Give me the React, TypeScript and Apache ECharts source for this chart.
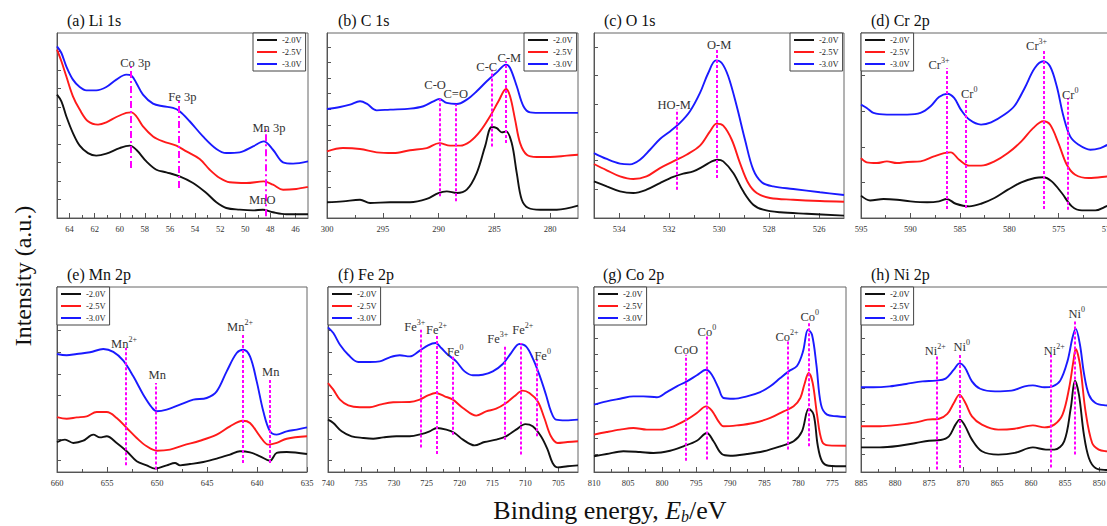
import React, { useEffect, useRef } from "react";
import * as echarts from "echarts";

const SERIES_NAMES = ["-2.0V", "-2.5V", "-3.0V"];
const COLORS = ["#111111", "#ff1a1a", "#1a1aff"];
const FONT = '"Liberation Serif", "Times New Roman", serif';

// (a) Li 1s
const liBlack = [[65,66.7],[64.65,63.1],[64.26,55],[63.73,45.9],[63.19,39.1],[62.53,35.1],[61.87,33.7],[61.07,34.8],[60.01,37.8],[59.21,39.1],[58.68,36.9],[57.88,30.6],[57.08,26.1],[56.29,24.7],[55.23,22.5],[54.16,18.9],[53.1,13.5],[52.3,8.5],[51.51,5.4],[50.44,4.5],[49.38,4.1],[48.59,4.5],[47.79,3.1],[46.73,2],[45,2]];
const liRed = [[65,91],[64.65,84.7],[64.26,76.6],[63.73,65.8],[63.19,58.6],[62.53,52.3],[61.73,50.5],[61.07,51.7],[60.27,54.6],[59.48,56.8],[59.08,57.1],[58.68,55],[58.15,49.5],[57.35,44.1],[56.55,41.4],[55.49,39.1],[54.69,36],[53.63,31.9],[52.83,26.1],[52.03,21.6],[51.24,19.3],[49.91,18.9],[48.53,19.8],[47.79,18],[46.99,15.3],[45.93,15.7],[45,16.8]];
const liBlue = [[65,92.8],[64.65,89.2],[64.26,82],[63.73,74.8],[63.19,70.8],[62.66,69],[61.87,69],[61.07,70.8],[60.27,74.8],[59.48,77.5],[59.08,77],[58.68,73],[58.15,66.7],[57.35,61.8],[56.55,60.4],[55.76,59.5],[55.23,57.7],[54.43,52.3],[53.37,44.1],[52.3,37.3],[51.51,35.1],[50.44,35.5],[49.38,38.7],[48.53,41.4],[47.79,36.9],[46.99,30.1],[46.19,29.4],[45,30.6]];
// [label, superscript, line x, line bottom, line top, label x, label y]
const liNotes = [["Co 3p","",59.15,27,82,58.76,84.3],["Fe 3p","",55.28,16.2,64,55.01,66.1],["Mn 3p","",48.4,1,47.7,48.11,49.2],["MnO","",null,0,0,48.64,10.3]];

// (b) C 1s
const cBlack = [[300,8.5],[298.57,9],[297.04,9.9],[296.14,8.1],[294.35,8.5],[292.56,8.5],[291.06,10.3],[290.01,13.5],[289.27,14.4],[288.37,13.5],[287.47,15.3],[286.58,24.3],[285.83,38.7],[285.23,49.2],[284.78,48.6],[284.33,46.3],[283.95,46.8],[283.44,40.5],[282.99,24.3],[282.54,9.9],[281.94,5.4],[280.9,4.5],[279.4,4.5],[277.5,6.7]];
const cRed = [[300,36],[298.57,37.8],[297.04,37.3],[295.55,35.5],[294.05,35.1],[292.56,36.6],[291.06,37.8],[289.93,40.5],[288.97,39.1],[288.07,39.1],[287.17,41.4],[286.28,46.8],[285.38,55],[284.63,63.1],[283.95,69.7],[283.59,65.8],[283.14,53.2],[282.69,40.5],[282.09,34.2],[281.2,33],[280,33],[278.5,33.7],[277.5,34.2]];
const cBlue = [[300,58.9],[298.83,60],[297.94,61.3],[297.04,63.1],[296.44,61.8],[295.55,58.2],[294.35,58.6],[292.56,59.1],[291.36,60.4],[290.46,63.1],[289.93,64.3],[289.27,62.2],[288.37,61.6],[287.47,64],[286.58,68.5],[285.68,73.9],[284.78,78.7],[283.95,82.9],[283.59,81.1],[282.99,71.2],[282.39,60.4],[281.79,57.1],[280.6,56.8],[278.8,56.8],[277.5,56.8]];
const cNotes = [["C-O","",289.87,11.7,64.5,290.31,72.4],["C=O","",288.43,9,61.3,288.46,67.6],["C-C","",285.23,38.7,80.2,285.68,82.3],["C-M","",283.98,40.5,84.7,283.65,87]];

// (c) O 1s
const oBlack = [[535,19.8],[534.49,17.1],[533.96,14.4],[533.43,13.5],[532.9,15.3],[532.36,18.9],[531.83,22.2],[531.43,24],[531.03,25.2],[530.63,27.9],[530.29,30.6],[530.07,31.5],[529.83,30.6],[529.43,24.3],[529.03,14.4],[528.63,7.2],[528.23,4.5],[527.56,3.1],[526.49,2.3],[525,1.3]];
const oRed = [[535,29.2],[534.49,25.8],[533.96,22.5],[533.43,21.1],[532.9,22.5],[532.36,27],[531.83,30.6],[531.3,34.2],[530.76,39.1],[530.36,46.8],[530.09,51],[529.83,49.9],[529.49,42.3],[529.16,29.7],[528.83,18.9],[528.49,13.5],[527.96,10.8],[527.03,9.9],[525.96,9.2],[525,8.8]];
const oBlue = [[535,35.1],[534.49,31.9],[533.96,29.4],[533.56,29],[533.16,31.5],[532.76,36.9],[532.36,42.7],[531.96,46.8],[531.56,51.4],[531.16,57.7],[530.76,67.6],[530.43,78.4],[530.12,85.2],[529.89,83.8],[529.63,76.6],[529.29,60.4],[528.96,42.3],[528.63,26.1],[528.29,19.3],[527.83,17.1],[527.03,15.7],[525.96,13.9],[525,12.4]];
const oNotes = [["HO-M","",531.69,15.3,58.6,531.79,61.6],["O-M","",530.09,21.6,91,529.99,94]];

// (d) Cr 2p
const crBlack = [[595,12.1],[594.08,9.5],[592.72,10.3],[591.36,9.9],[590,9],[588.3,8.5],[587.11,9],[586.33,10.3],[585.41,7.7],[584.05,6.3],[582.86,7.7],[581.5,10.8],[580.14,15.3],[578.78,19.3],[577.42,21.6],[576.56,22],[575.71,19.8],[574.69,13.5],[573.67,6.3],[572.65,4.1],[571.29,4.1],[570,6.7],[568.7,8.2]];
const crRed = [[595,32.4],[594.42,30.1],[593.4,29.7],[592.38,30.6],[591.36,29.7],[590.34,30.3],[588.98,30.6],[587.62,33.3],[586.6,35.1],[585.92,35.5],[585.07,31.5],[584.05,28.3],[582.86,28.3],[581.5,30.6],[580.14,35.1],[578.78,41.4],[577.59,48.6],[576.56,52.3],[575.88,50.5],[575.03,40.5],[574.18,28.8],[573.33,23.4],[571.97,21.6],[570,22.5],[568.7,23.2]];
const crBlue = [[595,61.3],[594.42,59.5],[593.74,56.8],[592.38,55.9],[590.34,55.9],[588.98,56.8],[587.96,60.4],[587.11,65.4],[586.26,67.2],[585.58,64.9],[584.9,58.6],[584.05,53.2],[582.86,50.5],[581.84,51.7],[580.48,55.9],[579.46,60.7],[578.44,70.3],[577.42,81.1],[576.56,84.7],[575.88,82],[575.2,71.2],[574.52,55],[573.84,44.1],[572.99,39.6],[571.8,36.9],[570.78,37.8],[570,39.6],[568.7,41]];
const crNotes = [["Cr","3+",586.33,4.9,81,587.11,83.2],["Cr","0",584.39,5.4,64.9,584.05,67.6],["Cr","3+",576.56,4.9,91,577.24,93.7],["Cr","0",574.12,4.5,64.9,573.84,67]];

// (e) Mn 2p
const mnBlack = [[660,16.2],[659.2,17.5],[658.37,15.7],[657.37,16.9],[656.37,20.2],[655.7,18.7],[655.03,19.3],[654.03,15.7],[653.03,11.2],[652.03,5.8],[651.03,3.6],[650.2,1.8],[649.03,3.6],[648.2,4.9],[647.7,3.6],[646.7,4.3],[645.37,5.4],[644.03,7.2],[642.7,9.4],[641.7,11.2],[640.7,10.6],[639.7,8.5],[638.7,6.1],[638.03,10.3],[637.03,10.8],[635,9.7]];
const mnRed = [[660,29.7],[659.03,28.8],[658.03,29.5],[657.03,30.1],[656.03,32.4],[655.03,32.4],[654.03,29.2],[653.03,23.8],[652.03,18.4],[651.03,13.9],[650.03,11.5],[648.7,12.1],[647.37,14.4],[645.7,16.9],[644.03,20.2],[642.7,24.7],[641.43,27.7],[640.7,26.5],[639.7,19.3],[638.87,14.8],[638.03,15.7],[637.03,18],[635,19.3]];
const mnBlue = [[660,63.8],[659.03,63.1],[658.03,63.8],[656.7,64.7],[655.37,66.5],[654.37,64.9],[653.37,60.2],[652.37,51.7],[651.37,41.8],[650.53,35],[650.03,32.8],[649.03,33.7],[647.7,36.4],[646.37,39.1],[645.03,40],[644.03,43.6],[643.03,54.4],[642.03,64.3],[641.37,66.1],[640.7,62.5],[640.03,49],[639.37,32.8],[638.7,22],[638.03,20.2],[637.03,22],[636.03,22.9],[635,24.1]];
const mnNotes = [["Mn","2+",653.1,3.6,67,653.3,69.7],["Mn","",650.1,1.3,48.1,649.97,53],["Mn","2+",641.43,4.9,75.1,641.7,79.1],["Mn","",638.77,4.9,49.9,638.63,54.8]];

// (f) Fe 2p
const feBlack = [[740,28.3],[739.19,26.5],[737.93,22],[736.41,19.3],[734.65,18.4],[733.13,18],[731.62,18.7],[729.6,19.3],[727.58,19.3],[725.81,20.5],[724.55,22],[723.43,23.8],[722.02,22.9],[720.76,21.1],[719.49,17.5],[717.73,14.4],[716.21,16.2],[714.44,17.5],[712.93,19.3],[711.41,22.9],[710,25.9],[708.89,24.7],[707.63,19.3],[706.62,12.1],[705.86,4.9],[705.1,2.5],[703.59,3.1],[702,3.6]];
const feRed = [[740,48.1],[739.19,44.5],[738.18,39.1],[736.92,36],[735.15,35],[733.64,35],[732.12,36.4],[730.1,37.7],[727.58,37.8],[726.06,39.1],[724.8,41.4],[723.64,42.7],[722.27,40.9],[721.01,39.1],[719.49,34.6],[717.47,30.5],[715.96,32.8],[714.44,34.2],[712.93,37.3],[711.67,40.9],[710.4,44],[709.39,42.7],[708.13,38.2],[707.12,29.2],[706.11,19.3],[705.1,15.7],[703.59,16.2],[702,16.6]];
const feBlue = [[740,78.2],[739.19,75.1],[738.18,68.8],[736.92,63.4],[735.4,59.5],[733.64,59.5],[732.12,59.8],[730.61,62],[729.09,63.1],[727.58,62.5],[726.06,65.6],[724.8,68.5],[723.64,69.7],[722.78,67],[721.77,63.4],[720.51,59.8],[719.24,54.4],[717.98,52.3],[716.46,52.6],[714.95,54.4],[713.43,58.4],[712.17,64.3],[710.91,69.2],[709.9,67.9],[708.89,61.6],[707.88,52.6],[706.87,41.8],[706.11,32.8],[705.35,28.3],[703.84,27.9],[702,28.3]];
const feNotes = [["Fe","3+",725.91,13.3,76.9,726.8,78.7],["Fe","2+",723.43,9.7,74.2,723.5,77.5],["Fe","0",721.01,20.2,62.5,720.66,65.2],["Fe","3+",713.18,17.5,67.9,714.19,72.4],["Fe","2+",710.76,9.4,69.7,710.4,77.5],["Fe","0",708.23,19.3,60.7,707.37,63.4]];

// (g) Co 2p
const coBlack = [[810,8.5],[808.14,9.7],[805.69,11.2],[803.24,10.8],[801.27,10.3],[798.82,11.5],[796.86,13.9],[794.9,16.9],[793.43,21.1],[792.45,16.6],[791.23,9.7],[790,8.8],[787.55,9.7],[785.1,11.2],[782.65,13.9],[780.69,16.6],[779.46,22],[778.48,34.2],[777.75,31],[777.16,14.6],[776.52,5.8],[775.54,3.4],[773,3.1]];
const coRed = [[810,20.2],[808.14,21.6],[806.18,22.9],[804.22,23.8],[802.25,22.9],[800.29,22.9],[798.33,24.7],[796.37,28.3],[794.9,31.9],[793.53,35.5],[792.7,33.2],[791.72,27.4],[790.98,24.7],[789.02,25.2],[786.57,26.5],[784.12,29.2],[782.16,32.8],[780.69,35.5],[779.71,40],[779.12,47.2],[778.48,53.5],[777.89,48.1],[777.25,31],[776.52,16.6],[775.54,14.4],[773,14.2]];
const coBlue = [[810,36.4],[808.14,38.2],[806.18,39.6],[804.22,40.9],[802.75,40.9],[800.78,40.4],[799.31,43.2],[797.84,46.3],[796.37,49],[794.9,52.3],[793.53,55.3],[792.7,52.6],[791.72,45.4],[790.98,40],[789.51,39.6],[787.55,40.9],[785.59,43.2],[784.12,46.3],[782.65,50.8],[781.42,54.4],[780.2,57.3],[779.31,65.2],[778.58,76.9],[777.99,74.2],[777.35,58],[776.67,36.4],[775.78,31],[774.31,30.1],[773,29.7]];
const coNotes = [["CoO","",796.47,6.1,63.4,796.47,66.4],["Co","0",793.43,6.7,73.3,793.43,76.1],["Co","2+",781.57,12.1,70.6,781.67,73.4],["Co","0",778.53,13.9,80.5,778.33,84.2]];

// (h) Ni 2p
const niBlack = [[885,13.3],[882.24,13.3],[879.34,14.2],[876.92,15.7],[874.99,16.9],[873.29,17.3],[872.08,19.3],[871.12,25.6],[870.49,28.3],[869.76,25.2],[868.7,17.5],[867.24,11.2],[864.83,9.4],[862.41,10.3],[859.75,13.3],[857.82,12.1],[856.6,12.1],[855.15,16.6],[854.18,34.6],[853.56,49.4],[852.98,41.8],[852.25,20.2],[851.52,7.6],[850.55,2.2],[849,1.1],[846.8,0.9]];
const niRed = [[885,24.7],[882.24,24.7],[879.34,25.6],[876.92,26.8],[875.23,28.3],[873.53,28.8],[872.32,31.4],[871.36,37.3],[870.54,41.8],[869.66,37.3],[868.7,30.1],[867.24,25.6],[864.83,22.9],[862.41,23.4],[859.75,25.2],[858.05,24.1],[856.6,25.6],[855.39,31],[854.42,45.4],[853.8,59.8],[853.46,66.5],[852.83,58],[852.01,32.8],[851.04,15.7],[850.07,12.1],[849,11.2],[846.8,10.8]];
const niBlue = [[885,45.8],[883.21,45.8],[880.79,46.3],[878.37,47.6],[875.95,49],[874.02,49.4],[872.57,50.5],[871.36,55.3],[870.54,58.7],[869.76,56.6],[868.7,49],[867.49,45],[865.31,43.6],[862.89,44],[860.96,46.3],[859.75,46.8],[858.05,45.8],[856.84,46.3],[855.73,49.4],[854.67,59.8],[853.94,72.4],[853.46,77.5],[852.83,68.8],[852.25,53.5],[851.52,41.8],[850.55,37.3],[849,36],[846.8,35.5]];
const niNotes = [["Ni","2+",873.87,1.3,63.4,874.1,66.2],["Ni","0",870.53,2.2,63.4,870.2,68.2],["Ni","2+",857.08,2.5,63.4,856.6,66.2],["Ni","0",853.6,9.4,82.3,853.31,86.2]];

// Axis ranges and tick labels
const titles = ["(a) Li 1s","(b) C 1s","(c) O 1s","(d) Cr 2p","(e) Mn 2p","(f) Fe 2p","(g) Co 2p","(h) Ni 2p"];
const xRanges = [[45,65],[277.5,300],[525,535],[568.7,595],[635,660],[702,740],[773,810],[846.8,885]];
const xMajor = [
  [64,62,60,58,56,54,52,50,48,46],
  [300,295,290,285,280],
  [534,532,530,528,526],
  [595,590,585,580,575,570],
  [660,655,650,645,640,635],
  [740,735,730,725,720,715,710,705],
  [810,805,800,795,790,785,780,775],
  [885,880,875,870,865,860,855,850],
];
const xMinor = [
  [63,61,59,57,55,53,51,49,47],
  [297.5,292.5,287.5,282.5],
  [533,531,529,527],
  [592.5,587.5,582.5,577.5,572.5],
  [657.5,652.5,647.5,642.5,637.5],
  [737.5,732.5,727.5,722.5,717.5,712.5,707.5],
  [807.5,802.5,797.5,792.5,787.5,782.5,777.5],
  [882.5,877.5,872.5,867.5,862.5,857.5,852.5],
];
const yTicks = [
  [10,20,30,40,50,60,70,80,90],
  [8.4,16.8,25.2,33.6,42,50.4,58.8,67.2,75.6,84,92.4],
  [15.5,31,46.3,61.6,77,92.3],
  [19.3,38.5,57.7,77],
  [6.1,17.8,29.5,41.3,53,64.7,76.4],
  [6.1,17.8,29.5,41.3,53,64.7,76.4],
  [9.4,18.4,27.4,36.4,45.4,54.4,63.4,72.4],
  [9.4,18.4,27.4,36.4,45.4,54.4,63.4,72.4],
];
const curves = [
  [liBlack, liRed, liBlue],[cBlack, cRed, cBlue],[oBlack, oRed, oBlue],[crBlack, crRed, crBlue],
  [mnBlack, mnRed, mnBlue],[feBlack, feRed, feBlue],[coBlack, coRed, coBlue],[niBlack, niRed, niBlue],
];
const notes = [liNotes, cNotes, oNotes, crNotes, mnNotes, feNotes, coNotes, niNotes];

// Layout (pixels)
const layout = [
  { left: 57, top: 33, width: 251, height: 185, lgLeft: 253, tLeft: 67, tTop: 12 },
  { left: 327, top: 33, width: 251, height: 185, lgLeft: 524, tLeft: 338, tTop: 12 },
  { left: 594, top: 33, width: 250, height: 185, lgLeft: 790, tLeft: 604, tTop: 12 },
  { left: 861, top: 33, width: 260, height: 185, lgLeft: 861, tLeft: 871, tTop: 12 },
  { left: 57, top: 287, width: 250, height: 185, lgLeft: 57, tLeft: 67, tTop: 266 },
  { left: 328, top: 287, width: 250, height: 185, lgLeft: 328, tLeft: 338, tTop: 266 },
  { left: 594, top: 287, width: 252, height: 185, lgLeft: 594, tLeft: 603, tTop: 266 },
  { left: 861, top: 287, width: 260, height: 185, lgLeft: 861, tLeft: 871, tTop: 266 },
];

const noteRich = {
  n: { fontSize: 12.5, fontFamily: FONT, color: "#333", lineHeight: 15, verticalAlign: "bottom" },
  p: { fontSize: 8, fontFamily: FONT, color: "#333", lineHeight: 9, verticalAlign: "top" },
};

function buildOption() {
  const grid: any[] = [];
  const xAxis: any[] = [];
  const yAxis: any[] = [];
  const series: any[] = [];
  const legend: any[] = [];
  const title: any[] = [];
  layout.forEach((L, i) => {
    grid.push({
      left: L.left, top: L.top, width: L.width, height: L.height, show: true,
      borderColor: "#666", borderWidth: 1, backgroundColor: "transparent",
      containLabel: false, outerBoundsMode: "none",
    });
    const [mn, mx] = xRanges[i];
    xAxis.push({
      type: "value", gridIndex: i, min: mn, max: mx, inverse: true, position: "bottom",
      axisLine: { show: true, onZero: false, lineStyle: { color: "#555", width: 1 } },
      splitLine: { show: false },
      axisTick: { show: true, inside: true, length: 5, customValues: xMajor[i], lineStyle: { color: "#555" } },
      axisLabel: { show: true, customValues: xMajor[i], fontSize: 8.5, color: "#333", fontFamily: FONT, margin: 6, hideOverlap: false },
    });
    xAxis.push({
      type: "value", gridIndex: i, min: mn, max: mx, inverse: true, position: "bottom", offset: 0,
      axisLine: { show: false, onZero: false },
      splitLine: { show: false },
      axisTick: { show: true, inside: true, length: 3, customValues: xMinor[i], lineStyle: { color: "#555" } },
      axisLabel: { show: false },
    });
    yAxis.push({
      type: "value", gridIndex: i, min: 0, max: 100,
      axisLine: { show: true, onZero: false, lineStyle: { color: "#555" } },
      splitLine: { show: false },
      axisTick: { show: true, inside: true, length: 4, customValues: yTicks[i], lineStyle: { color: "#555" } },
      axisLabel: { show: false },
    });
    curves[i].forEach((data, k) => {
      const s: any = {
        type: "line", name: SERIES_NAMES[k], xAxisIndex: 2 * i, yAxisIndex: i,
        data, showSymbol: false, symbol: "none", smooth: 0.35,
        lineStyle: { width: 1.9, color: COLORS[k] }, itemStyle: { color: COLORS[k] }, z: 3,
      };
      if (k === 2) {
        const ns: any[] = notes[i];
        s.markLine = {
          silent: true, symbol: ["none", "none"], animation: false,
          lineStyle: { color: "#ff00ff", width: 2, type: i === 0 ? [7, 3, 2, 3] : [3, 2] },
          label: { show: false },
          emphasis: { disabled: true },
          data: ns.filter((n) => n[2] !== null).map((n) => [
            { coord: [n[2], n[3]] },
            { coord: [n[2], n[4]] },
          ]),
        };
        s.markPoint = {
          silent: true, symbol: "rect", symbolSize: 1, itemStyle: { color: "rgba(0,0,0,0)" },
          emphasis: { disabled: true },
          label: { show: true, position: "inside", rich: noteRich },
          data: ns.map((n) => ({
            coord: [n[5], n[6]],
            label: { formatter: n[1] ? `{n|${n[0]}}{p|${n[1]}}` : `{n|${n[0]}}` },
          })),
        };
      }
      series.push(s);
    });
    legend.push({
      data: SERIES_NAMES, left: L.lgLeft, top: L.top, orient: "vertical", icon: "rect",
      itemWidth: 20, itemHeight: 2, itemGap: 2, itemTextGap: 3, padding: [2, 4, 2, 4],
      borderColor: "#444", borderWidth: 1, backgroundColor: "#fff", borderRadius: 0, selectedMode: false,
      textStyle: { fontSize: 8.5, fontFamily: FONT, color: "#222", lineHeight: 10 },
    });
    title.push({ text: titles[i], left: L.tLeft, top: L.tTop, padding: 0, textStyle: { fontSize: 16, fontWeight: "normal", fontFamily: FONT, color: "#111" } });
  });
  return {
    animation: false,
    backgroundColor: "#fff",
    grid, xAxis, yAxis, series, legend, title,
    graphic: [
      {
        type: "text", x: 23, y: 276, rotation: Math.PI / 2,
        style: {
          text: "{n|Intensity (a.u.)}", align: "center", verticalAlign: "middle",
          rich: { n: { fontSize: 24, fontFamily: FONT, fill: "#111", lineHeight: 26 } },
        },
      },
      {
        type: "text", x: 610, y: 510,
        style: {
          text: "{n|Binding energy, }{i|E}{s|b}{n|/eV}", align: "center", verticalAlign: "middle", fill: "#111",
          rich: {
            n: { fontSize: 26, fontFamily: FONT, lineHeight: 28, fill: "#111" },
            i: { fontSize: 26, fontFamily: FONT, fontStyle: "italic", lineHeight: 28, fill: "#111" },
            s: { fontSize: 16, fontFamily: FONT, fontStyle: "italic", lineHeight: 16, verticalAlign: "bottom", fill: "#111" },
          },
        },
      },
    ],
  };
}

export default function App() {
  const ref = useRef<HTMLDivElement>(null);
  useEffect(() => {
    if (!ref.current) return;
    const chart = echarts.init(ref.current, undefined, { renderer: "svg" });
    chart.setOption(buildOption() as any);
    return () => chart.dispose();
  }, []);
  return <div ref={ref} style={{ position: "fixed", left: 0, top: 0, width: 1107, height: 526, overflow: "hidden" }} />;
}
